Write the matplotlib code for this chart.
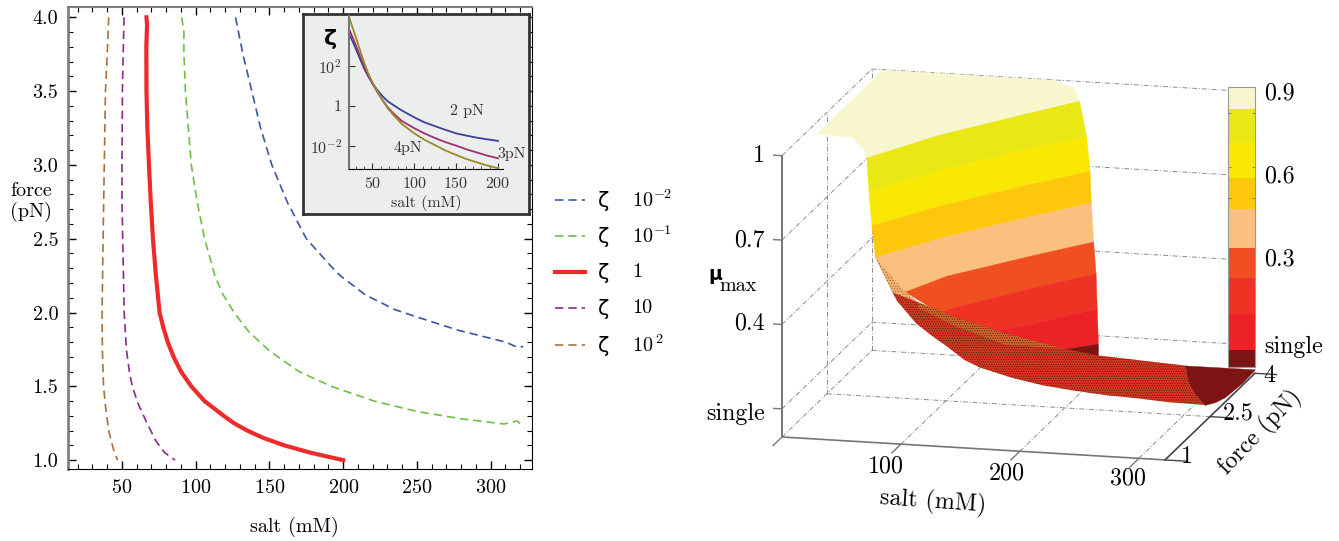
import numpy as np
import matplotlib
matplotlib.use("Agg")
import matplotlib.pyplot as plt
from matplotlib.lines import Line2D
from mpl_toolkits.mplot3d import proj3d
from mpl_toolkits.mplot3d.art3d import Poly3DCollection

plt.rcParams['font.family'] = ['cmr10', 'DejaVu Sans']
plt.rcParams['mathtext.fontset'] = 'cm'
plt.rcParams['axes.formatter.use_mathtext'] = True
plt.rcParams['axes.unicode_minus'] = False
plt.rcParams['hatch.linewidth'] = 0.35

W, H = 1339, 541

# left panel, contour lines (salt mM, force pN)
red_salt = [66.6, 67, 66.5, 66.6, 67.2, 68.3, 69.5, 71, 73, 75.5, 78, 81, 85, 90, 97, 106, 119, 126, 135, 146, 160, 178, 200]
red_force = [4.0, 3.95, 3.8, 3.5, 3.25, 3.0, 2.75, 2.5, 2.25, 2.0, 1.9, 1.8, 1.7, 1.6, 1.5, 1.4, 1.3, 1.25, 1.2, 1.15, 1.1, 1.05, 1.0]
purple_salt = [51.4, 50.8, 50.3, 50, 50, 50.5, 51.5, 53, 55, 57, 61, 67, 73, 79, 86]
purple_force = [4.0, 3.75, 3.5, 3.0, 2.75, 2.5, 2.0, 1.75, 1.6, 1.5, 1.38, 1.25, 1.13, 1.05, 1.0]
brown_salt = [41, 40, 38.8, 38, 37.2, 36.5, 36.7, 37.5, 39, 41, 44, 47]
brown_force = [4.0, 3.75, 3.5, 3.0, 2.5, 2.0, 1.75, 1.5, 1.35, 1.2, 1.08, 1.0]
green_salt = [90.5, 92, 92, 93, 95, 97, 101, 106, 113, 118, 126, 136, 150, 170, 192, 221, 250, 280, 309, 318, 322]
green_force = [4.0, 3.9, 3.75, 3.5, 3.25, 3.0, 2.75, 2.5, 2.25, 2.13, 2.0, 1.87, 1.74, 1.6, 1.5, 1.4, 1.33, 1.28, 1.245, 1.265, 1.23]
blue_salt = [127, 132, 138, 144, 151.6, 162, 175, 184, 193, 198, 215, 235, 250, 278, 310, 318, 322]
blue_force = [4.0, 3.75, 3.5, 3.25, 3.0, 2.75, 2.5, 2.4, 2.3, 2.25, 2.12, 2.02, 1.97, 1.88, 1.8, 1.765, 1.77]

legend_labels = ['$10^{-2}$', '$10^{-1}$', '1', '10', '$10^{\\,2}$']

# inset, log10(zeta) against salt
inset_salt = [22, 26, 30, 35, 40, 45, 50, 56, 62, 68, 75, 85, 100, 112, 125, 137, 150, 162, 175, 187, 200]
zeta2_log = [3.66, 3.3, 2.9, 2.4, 1.9, 1.5, 1.14, 0.8, 0.5, 0.25, 0.05, -0.22, -0.57, -0.82, -1.02, -1.2, -1.38, -1.49, -1.6, -1.68, -1.76]
zeta3_log = [3.9, 3.5, 3.1, 2.55, 2.0, 1.55, 1.14, 0.7, 0.3, -0.05, -0.37, -0.75, -1.12, -1.38, -1.62, -1.82, -2.0, -2.18, -2.35, -2.5, -2.64]
zeta4_log = [4.5, 4.0, 3.5, 2.85, 2.2, 1.65, 1.2, 0.75, 0.3, -0.1, -0.45, -0.9, -1.38, -1.7, -1.98, -2.24, -2.47, -2.67, -2.85, -3.0, -3.14]

# right panel, boundaries of the coloured bands on the wall
band_mu = [0.933, 0.808, 0.684, 0.572, 0.434, 0.322, 0.196, 0.072, 0.03]
band_salt = [[52, 90, 140, 174], [53, 92, 143, 180], [55, 94, 146, 183], [58, 96, 148, 184],
             [78, 98, 150, 186], [96, 103, 152, 188], [126, 153, 189], [168, 190], [172, 190]]
band_force = [[1.75, 2.6, 3.45, 4], [1.78, 2.6, 3.45, 4], [1.8, 2.6, 3.45, 4], [1.8, 2.6, 3.45, 4],
              [2.0, 2.6, 3.45, 4], [2.42, 2.6, 3.45, 4], [3.09, 3.45, 4], [3.77, 4], [3.8, 4]]
band_colors = ['#e9e714', '#f8e804', '#fdc70c', '#fbc07e', '#f05020', '#ee3324', '#ec2226', '#7d1414']

plateau_salt = [9, 9, 151, 170, 174, 140, 90, 52, 52, 40]
plateau_force = [1.79, 4, 4, 4, 4, 3.44, 2.6, 1.72, 1.69, 1.75]
plateau_mu = [1, 1, 1, 0.977, 0.933, 0.933, 0.933, 0.933, 0.96, 1]

ribbon_salt = [70, 83, 100, 131, 168, 190, 262, 309, 316, 322, 318, 291, 264, 235, 210, 184, 155, 140, 124, 108, 94, 74]
ribbon_force = [1.9, 2.26, 2.8, 3.25, 3.77, 4, 4, 2.2, 2.22, 2.32, 1.24, 1.27, 1.3, 1.33, 1.36, 1.4, 1.45, 1.53, 1.6, 1.68, 1.75, 1.9]
ribbon_mu = [0.44, 0.37, 0.267, 0.17, 0.072, 0.03, 0.013, 0.2, 0.11, 0.06, 0.18, 0.184, 0.185, 0.192, 0.2, 0.215, 0.24, 0.255, 0.29, 0.32, 0.35, 0.41]

strip_salt = [83, 100, 131, 168, 131, 100, 83]
strip_force = [2.26, 2.8, 3.25, 3.77, 3.25, 2.8, 2.26]
strip_mu = [0.37, 0.267, 0.17, 0.072, 0.13, 0.235, 0.35]

sliver_salt = [58, 70, 83, 78]
sliver_force = [1.8, 1.9, 2.26, 2.0]
sliver_mu = [0.572, 0.44, 0.37, 0.434]

cap_salt = [262, 309, 311, 316, 322, 322, 322, 322, 322]
cap_force = [4, 2.2, 2.21, 2.22, 2.32, 2.67, 3.0, 3.57, 4]
cap_mu = [0.013, 0.2, 0.156, 0.11, 0.06, 0.034, 0.018, 0.01, 0.014]

cb_edges = [0.92, 0.84, 0.72, 0.59, 0.48, 0.34, 0.23, 0.10, -0.03, -0.09]
cb_colors = ['#f7f6cc'] + band_colors
cb_marks = [0.825, 0.63, 0.52, 0.32, 0.22]
cb_labels = ['0.9', '0.6', '0.3', 'single']

mu_ticks = [0.1, 0.4, 0.7, 1.0]
mu_labels = ['single', '0.4', '0.7', '1']
salt_ticks = [100, 200, 300]
force_ticks = [1, 2.5, 4]


def box(l, t, r, b):
    return [l / W, 1 - b / H, (r - l) / W, (b - t) / H]


def fx(x, y):
    return x / W, 1 - y / H


fig = plt.figure(figsize=(W / 100, H / 100), dpi=100)

# left panel
ax = fig.add_axes(box(68, 7, 532, 469))
styles = [dict(color='#3a55a5', lw=1.2, dashes=(5, 3)), dict(color='#6dbf45', lw=1.2, dashes=(5, 3)),
          dict(color='#ee2a2a', lw=3), dict(color='#8a2a8a', lw=1.2, dashes=(5, 3)),
          dict(color='#a9713a', lw=1.2, dashes=(5, 3))]
ax.plot(blue_salt, blue_force, **styles[0])
ax.plot(green_salt, green_force, **styles[1])
ax.plot(red_salt, red_force, **styles[2])
ax.plot(purple_salt, purple_force, **styles[3])
ax.plot(brown_salt, brown_force, **styles[4])
ax.set_xlim(13.4, 328)
ax.set_ylim(0.94, 4.07)
ax.set_xticks([50, 100, 150, 200, 250, 300])
ax.set_xticks(np.arange(20, 330, 10), minor=True)
ax.set_yticks([1, 1.5, 2, 2.5, 3, 3.5, 4])
ax.set_yticks(np.arange(1, 4.01, 0.1), minor=True)
ax.set_yticklabels(['1.0', '1.5', '2.0', '2.5', '3.0', '3.5', '4.0'])
ax.tick_params(which='both', direction='in', top=True, right=True, labelsize=14.5, pad=7)
ax.tick_params(which='major', length=6, width=1)
ax.tick_params(which='minor', length=3.5, width=0.8)
ax.spines['left'].set(color='#808080', lw=2)
ax.spines['top'].set(color='#808080', lw=1.5)
fig.text(*fx(294, 527), 'salt (mM)', fontsize=14.5, ha='center', va='center')
fig.text(*fx(31, 202), 'force\n(pN)', fontsize=14.5, ha='center', va='center', linespacing=1.1)

for lab, y, st in zip(legend_labels, [200, 236, 272, 308, 345], styles):
    fig.add_artist(Line2D([555 / W, 585 / W], [1 - y / H, 1 - y / H], transform=fig.transFigure, **st))
    fig.text(*fx(604, y + 1), 'ζ', fontsize=15, ha='center', va='center', family='DejaVu Sans')
    fig.text(*fx(632, y), lab, fontsize=14.5, ha='left', va='center')

# inset
bg = fig.add_axes(box(303, 14, 529, 214), facecolor='#eceeee', zorder=3)
bg.set_xticks([])
bg.set_yticks([])
for s in bg.spines.values():
    s.set(color='#333333', lw=2)
ins = fig.add_axes(box(349, 16, 503, 169), zorder=4)
ins.patch.set_alpha(0)
ins.semilogy(inset_salt, 10 ** np.array(zeta2_log), color='#3b3f9e', lw=1.3)
ins.semilogy(inset_salt, 10 ** np.array(zeta3_log), color='#a03070', lw=1.3)
ins.semilogy(inset_salt, 10 ** np.array(zeta4_log), color='#9a8a2a', lw=1.3)
ins.set_xlim(22, 206)
ins.set_ylim(10 ** -3.18, 10 ** 4.55)
ins.set_xticks([50, 100, 150, 200])
ins.set_xticks(np.arange(30, 206, 10), minor=True)
ins.set_yticks([1e-2, 1, 1e2])
ins.set_yticks([], minor=True)
ins.set_yticklabels(['$10^{-2}$', '1', '$10^{2}$'])
ins.tick_params(which='both', direction='in', labelsize=11.5, colors='#333333', pad=5)
ins.tick_params(which='major', length=4)
ins.tick_params(which='minor', length=2)
ins.spines['top'].set_visible(False)
ins.spines['right'].set_visible(False)
ins.spines['left'].set(color='#777777', lw=1.5)
ins.set_xlabel('salt (mM)', fontsize=11.5, color='#333333', labelpad=3)
ins.text(143, 10 ** -0.45, '2 pN', fontsize=11.5, color='#333333')
ins.text(75, 10 ** -2.3, '4pN', fontsize=11.5, color='#333333')
ins.text(199, 10 ** -2.6, '3pN', fontsize=11.5, color='#333333')
fig.text(*fx(331, 39), 'ζ', fontsize=16, ha='center', va='center', zorder=6, fontweight='bold')

# right panel, a real 3d axes
ax3 = fig.add_axes([0.45, 0.02, 0.4, 0.4 * W / H], projection='3d', proj_type='ortho', zorder=1)
ax3.patch.set_alpha(0)
ax3.set_axis_off()
ax3.computed_zorder = False
ax3.set_xlim(0, 322)
ax3.set_ylim(1, 4)
ax3.set_zlim(0, 1)
ax3.view_init(elev=13.9, azim=-76, roll=0)
ax3.set_box_aspect((395, 372, 290))


def proj_px(x, y, z):
    X, Y, _ = proj3d.proj_transform(x, y, z, ax3.get_proj())
    return ax3.transData.transform((X, Y))


# scale and shift the axes so the front edge lands where the reference has it
ax3.apply_aspect()
p0, p1 = proj_px(0, 1, 0), proj_px(322, 1, 0)
pos = ax3.get_position()
size = pos.width * W * 383.7 / np.hypot(*(p1 - p0))
ax3.set_position([pos.x0, pos.y0, size / W, size / H])
ax3.apply_aspect()
p0 = proj_px(0, 1, 0)
pos = ax3.get_position()
ax3.set_position([pos.x0 + (782 - p0[0]) / W, pos.y0 + (H - 437 - p0[1]) / H, pos.width, pos.height])

grid = dict(color='#8c8c8c', lw=0.7, ls=(0, (5, 2, 1, 2)), zorder=1)
for s in salt_ticks:
    ax3.plot([s, s], [1, 4], [0, 0], **grid)
for f in [2.5, 4]:
    ax3.plot([0, 322], [f, f], [0, 0], **grid)
    ax3.plot([0, 0], [f, f], [0, 1], **grid)
for m in [0] + mu_ticks:
    ax3.plot([0, 0], [1, 4], [m, m], **grid)
for m in mu_ticks:
    ax3.plot([0, 322], [4, 4], [m, m], **grid)

for i, c in enumerate(band_colors):
    top = list(zip(band_salt[i], band_force[i], [band_mu[i]] * len(band_salt[i])))
    low = list(zip(band_salt[i + 1], band_force[i + 1], [band_mu[i + 1]] * len(band_salt[i + 1])))
    ax3.add_collection3d(Poly3DCollection([top + low[::-1]], facecolor=c, edgecolor=c, lw=0.3, zorder=3))
ax3.add_collection3d(Poly3DCollection([list(zip(plateau_salt, plateau_force, plateau_mu))],
                                      facecolor='#f7f6cc', edgecolor='#f7f6cc', lw=0.3, zorder=3))
ax3.add_collection3d(Poly3DCollection([list(zip(sliver_salt, sliver_force, sliver_mu))],
                                      facecolor='#f3b26e', edgecolor='#7a4a20', hatch='......', lw=0, zorder=4))
ax3.add_collection3d(Poly3DCollection([list(zip(ribbon_salt, ribbon_force, ribbon_mu))],
                                      facecolor='#d4361f', edgecolor='#33150e', hatch='.......', lw=0, zorder=4))
ax3.add_collection3d(Poly3DCollection([list(zip(strip_salt, strip_force, strip_mu))],
                                      facecolor='#d0642a', edgecolor='#33150e', hatch='.......', lw=0, zorder=4))
ax3.add_collection3d(Poly3DCollection([list(zip(cap_salt, cap_force, cap_mu))],
                                      facecolor='#7d1414', edgecolor='#7d1414', lw=0.3, zorder=5))

ax3.plot([0, 0], [1, 1], [0, 1], color='#777777', lw=1.4, zorder=6)
ax3.plot([0, 322], [1, 1], [0, 0], color='#777777', lw=1.2, zorder=6)
ax3.plot([322, 322], [1, 4], [0, 0], color='#444444', lw=1.2, zorder=6)
for m in mu_ticks:
    ax3.plot([-7, 0], [1, 1], [m, m], color='#777777', lw=1, zorder=6)
for s in salt_ticks + [0]:
    ax3.plot([s, s], [0.7, 1], [0, 0], color='#777777', lw=1, zorder=6)
for f in force_ticks:
    ax3.plot([322, 340], [f, f], [0, 0], color='#444444', lw=1, zorder=6)

big = 17.3
for lab, y in zip(mu_labels, [414, 323, 240, 156]):
    fig.text(*fx(765, y), lab, fontsize=big, ha='right', va='center')
for lab, x, y in zip(salt_ticks, [886, 1007, 1128], [466, 473, 478]):
    fig.text(*fx(x, y), str(lab), fontsize=big, ha='center', va='center')
for lab, x, y in zip(['1', '2.5', '4'], [1187, 1238, 1269], [457, 413, 376]):
    fig.text(*fx(x, y), lab, fontsize=big, ha='center', va='center')
fig.text(*fx(933, 502), 'salt (mM)', fontsize=big, ha='center', va='center', rotation=-4)
fig.text(*fx(1260, 432), 'force (pN)', fontsize=big, ha='center', va='center', rotation=46)
fig.text(*fx(715, 274), 'μ', fontsize=13.5, ha='center', va='center', family='DejaVu Sans', fontweight='bold')
fig.text(*fx(738, 286), 'max', fontsize=14.5, ha='center', va='center')

# colour bar standing on the back corner
cb = fig.add_axes(box(1228, 87, 1255, 367), zorder=2)
for i, c in enumerate(cb_colors):
    cb.bar(0, cb_edges[i] - cb_edges[i + 1], bottom=cb_edges[i + 1], width=1, color=c)
cb.set_xlim(-0.5, 0.5)
cb.set_ylim(cb_edges[-1], cb_edges[0])
cb.set_xticks([])
cb.set_yticks(cb_marks)
cb.set_yticklabels([])
cb.tick_params(axis='y', direction='in', length=2, width=0.6, color='#777777', left=True, right=True)
for s in cb.spines.values():
    s.set(color='#999999', lw=0.8)
for lab, y in zip(cb_labels, [93, 176, 259, 347]):
    fig.text(*fx(1264, y), lab, fontsize=big, ha='left', va='center')

fig.savefig('out.png', dpi=100)
